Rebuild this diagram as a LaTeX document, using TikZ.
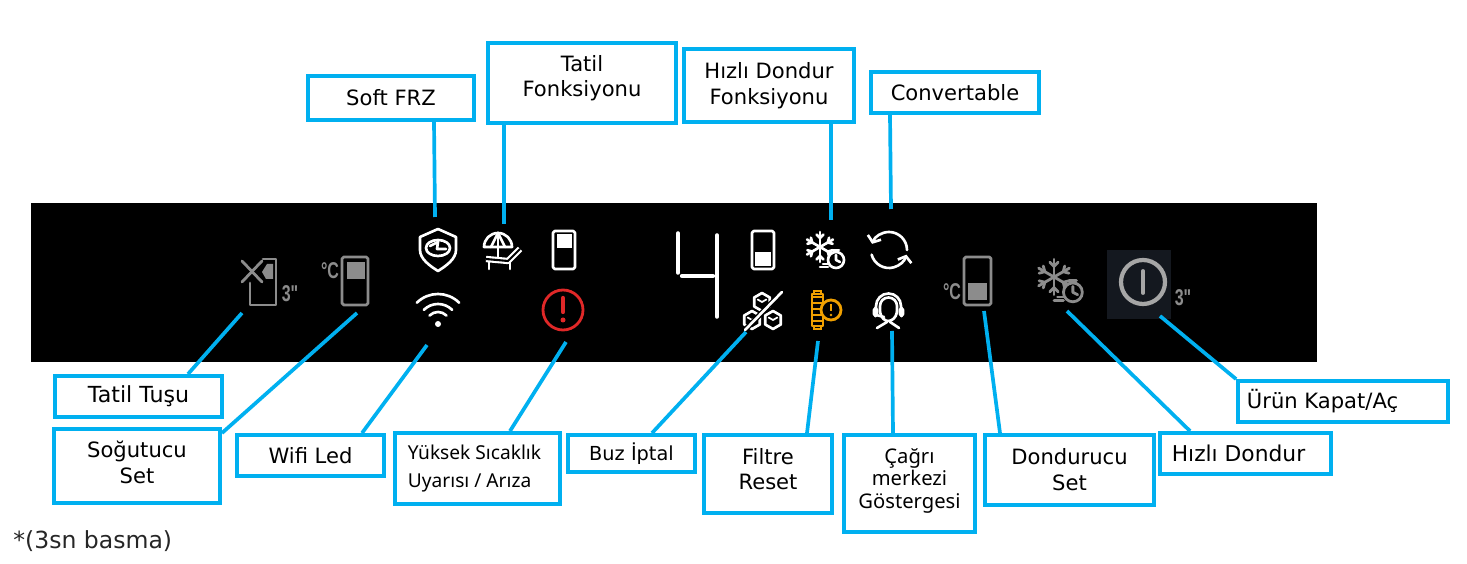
\documentclass[tikz,border=0pt]{standalone}
\usepackage{fontspec}
\setmainfont{DejaVu Sans}
\newfontfamily\smallfam{Noto Sans}
\newfontfamily\iconfam[FakeStretch=0.7]{Liberation Sans}
\usetikzlibrary{arrows.meta}
\definecolor{linkblue}{HTML}{00B0F0}
\definecolor{icongray}{HTML}{8C8C8C}
\definecolor{alarmred}{HTML}{E02828}
\definecolor{filterorange}{HTML}{F0A000}
\definecolor{powerbg}{HTML}{14181F}
\tikzset{
	box/.style 2 args={draw=linkblue,line width=2.2pt,align=center,inner sep=0pt,font=\fontsize{12}{14.7}\selectfont,minimum width=(#1-2)*0.02cm,minimum height=(#2-2)*0.02cm},
	link/.style={draw=linkblue,line width=2.1pt},
	whiteic/.style={draw=white,line width=1.5pt,line join=round,line cap=round},
	grayic/.style={draw=icongray,line width=1.6pt,line join=round,line cap=round},
	icontext/.style={text=icongray,inner sep=0pt,font=\iconfam\bfseries\fontsize{13}{13}\selectfont},
	pics/flake/.style={code={
		\foreach \a in {30,90,...,330} {
			\draw (0,0) -- (\a:15);
			\draw (\a:9) ++(\a+45:5) -- (\a:9) -- ++(\a-45:5);
		}
		\draw[fill=black] (16,-13) circle (8);
		\draw (16,-8) -- (16,-13) -- (20,-15);
		\draw (13,-3) -- (19,-3);
		\draw (3,-17) -- (9,-17);
		\draw (0,-20) -- (8,-20);
	}}
}
\begin{document}
\begin{tikzpicture}[x=0.02cm,y=0.02cm]
	\useasboundingbox (0,0) rectangle (1467,564);

	% Panel
	\fill[black] (31,202) rectangle (1317,361);

	% Tatil tusu
	\draw[grayic] (263,305) -- (276,305) -- (276,259) -- (250,259) -- (250,281);
	\fill[icongray] (262,292) -- (267,300) -- (273,300) -- (273,285) -- (266,285) -- cycle;
	\draw[grayic] (242,303) -- (262,282);
	\draw[grayic] (242,282) -- (262,303);
	\node[icontext] (threeleft) at (290,270) {3"};

	% Sogutucu set
	\node[icontext] (degleft) at (330,293) {°C};
	\draw[grayic,rounded corners=1pt] (342,259) rectangle (368,307);
	\fill[icongray] (347,285) rectangle (365,302);

	% Soft FRZ
	\draw[whiteic] (438,335) -- (456,327) -- (456,314) .. controls (456,305) and (446,298) .. (438,293) .. controls (430,298) and (420,305) .. (420,314) -- (420,327) -- cycle;
	\draw[whiteic] (438,316) ellipse (12 and 8);
	\draw[whiteic] (430,318) -- (438,322) -- (437,315) -- (446,315);

	% Tatil fonksiyonu
	\draw[whiteic] (484,317) arc (180:0:14) -- cycle;
	\draw[whiteic] (498,331) -- (498,306);
	\draw[whiteic] (491,317) -- (498,331) -- (505,317);
	\draw[draw=white,line width=1.2pt,double=black,double distance=1.2pt,line join=round] (486,305) -- (508,303) -- (520,315);
	\draw[whiteic] (489,302) -- (489,295);
	\draw[whiteic] (510,302) -- (510,295);

	% Kapi
	\draw[whiteic,rounded corners=1pt] (553,295) rectangle (575,333);
	\fill[white] (557,316) rectangle (572,330);

	% Wifi
	\foreach \r in {12,20,30} {
		\draw[whiteic] (438,240) ++(45:\r) arc (45:135:\r);
	}
	\fill[white] (438,240) circle (3);

	% Alarm
	\draw[alarmred,line width=1.6pt] (563,254) circle (20);
	\draw[alarmred,line width=2.4pt,line cap=round] (563,266) -- (563,252);
	\fill[alarmred] (563,244) circle (2.5);

	% Rakam
	\draw[white,line width=2pt,line cap=round] (678,331) -- (678,291);
	\draw[white,line width=2.4pt,line cap=round] (682,288) -- (713,288);
	\draw[white,line width=2pt,line cap=round] (717,329) -- (717,247);

	% Dondurucu kapi
	\draw[whiteic,rounded corners=1pt] (752,295) rectangle (774,333);
	\fill[white] (755,298) rectangle (771,312);

	% Hizli dondur fonksiyonu
	\pic[whiteic] (flakewhite) at (820,317) {flake};

	% Convertable
	\draw[whiteic,-{Straight Barb[length=3pt,width=8pt]}] (889,314) ++(0:18) arc (0:160:18);
	\draw[whiteic,-{Straight Barb[length=3pt,width=8pt]}] (889,314) ++(195:18) arc (195:345:18);

	% Buz iptal
	\foreach \x/\y in {762/262,752/244,773/244} {
		\draw[whiteic] (\x,\y) ++(30:9) -- ++(150:9) -- ++(210:9) -- ++(270:9) -- ++(330:9) -- ++(30:9) -- cycle;
		\draw[whiteic,line width=1pt] (\x,\y) ++(150:5) -- ++(-30:5) -- ++(30:5);
	}
	\draw[black,line width=3pt] (745,234) -- (782,272);
	\draw[whiteic] (745,234) -- (782,272);

	% Filtre
	\draw[filterorange,line width=1.6pt,line join=round] (812,238) rectangle (823,270);
	\draw[filterorange,line width=1.6pt] (814,270) -- (814,273) -- (821,273) -- (821,270);
	\draw[filterorange,line width=1.6pt] (814,238) -- (814,235) -- (821,235) -- (821,238);
	\foreach \y in {243,249,...,267} {
		\draw[filterorange,line width=0.6pt] (812,\y) -- (823,\y);
	}
	\draw[filterorange,line width=1.6pt,fill=black] (831,254) circle (10);
	\draw[filterorange,line width=1.6pt] (831,260) -- (831,253);
	\fill[filterorange] (831,249) circle (1.3);

	% Cagri merkezi
	\draw[whiteic] (876,252) -- (876,258) arc (180:0:12.5) -- (901,252);
	\draw[whiteic] (880,252) -- (880,258) arc (180:0:8.5) -- (897,252);
	\draw[whiteic,rounded corners=1pt] (874,248) rectangle (877,256);
	\draw[whiteic,rounded corners=1pt] (900,248) rectangle (903,256);
	\draw[whiteic] (880,252) .. controls (881,246) and (885,243) .. (888,243) .. controls (892,243) and (896,246) .. (897,252);
	\draw[whiteic] (877,236) -- (887,242);
	\draw[whiteic] (899,236) -- (890,242);
	\draw[whiteic] (876,249) -- (884,247);

	% Dondurucu set
	\node[icontext] (degright) at (952,272) {°C};
	\draw[grayic,rounded corners=1pt] (964,259) rectangle (991,307);
	\fill[icongray] (968,264) rectangle (987,281);

	% Hizli dondur
	\pic[grayic,scale=1.18] (flakegray) at (1054,287) {flake};

	% Urun kapat
	\fill[powerbg] (1107,245) rectangle (1171,314);
	\draw[draw=gray!70!white,line width=2.4pt] (1143,282) circle (22);
	\draw[draw=gray!70!white,line width=2.2pt,line cap=round] (1143,271) -- (1143,293);
	\node[icontext] (threeright) at (1183,266) {3"};

	% Kutular
	\node[box={168}{46}] (softfrz) at (391,466) {Soft FRZ};
	\node[box={190}{82},text depth=0.28cm] (tatilfonk) at (582,481) {Tatil\\Fonksiyonu};
	\node[box={172}{75}] (hizlifonk) at (769,478.5) {Hızlı Dondur\\Fonksiyonu};
	\node[box={170}{43}] (convert) at (955,471.5) {Convertable};
	\node[box={169}{43},font=\fontsize{12.6}{15}\selectfont] (tatiltusu) at (138.5,167.5) {Tatil Tuşu};
	\node[box={168}{76},text depth=0.16cm] (sogutucu) at (137,98) {Soğutucu\\Set};
	\node[box={149}{43}] (wifiled) at (310.5,108.5) {Wifi Led};
	\node[box={167}{73},align=left,font=\smallfam\fontsize{10.9}{16}\selectfont,text depth=0.1cm] (yuksek) at (477.5,95.5) {Yüksek Sıcaklık\hspace*{0.12cm}\\Uyarısı / Arıza};
	\node[box={129}{39},font=\fontsize{11}{14}\selectfont] (buziptal) at (631.5,110.5) {Buz İptal};
	\node[box={130}{80},text depth=0.2cm] (filtre) at (768,90) {Filtre\\Reset};
	\node[box={133}{99},font=\smallfam\fontsize{11.5}{13}\selectfont,text depth=0.2cm] (cagri) at (909.5,80.5) {Çağrı\\merkezi\\Göstergesi};
	\node[box={171}{72}] (dondurucu) at (1069.5,94) {Dondurucu\\Set};
	\node[box={173}{43},font=\fontsize{12.4}{15}\selectfont] (hizli) at (1245.5,110.5) {Hızlı Dondur\hspace*{0.28cm}};
	\node[box={212}{43}] (urun) at (1343,162.5) {Ürün Kapat/Aç\hspace*{0.82cm}};

	% Baglantilar
	\foreach \from/\x/\tx/\ty in {softfrz.south/434/435/347,tatilfonk.south/504/504/340,hizlifonk.south/831/831/344,convert.south/890/891/355,tatiltusu.north/188/242/251,wifiled.north/362/427/219,yuksek.north/510/566/222,buziptal.north/652/746/232,filtre.north/807/818/223,cagri.north/893/892/233,dondurucu.north/1000/984/253,hizli.north/1190/1067/253} {
		\coordinate (tip) at (\tx,\ty);
		\draw[link] (\x,0 |- \from) -- (tip);
	}
	\coordinate (tipsogutucu) at (357,251);
	\draw[link] (sogutucu.north east) ++(0,-6) -- (tipsogutucu);
	\coordinate (tipurun) at (1160,248);
	\draw[link] (urun.north west) -- (tipurun);

	% Not
	\node[anchor=west,inner sep=0pt,font=\fontsize{13.4}{15}\selectfont,text=black!85] (note) at (13,23) {*(3sn basma)};
\end{tikzpicture}
\end{document}
